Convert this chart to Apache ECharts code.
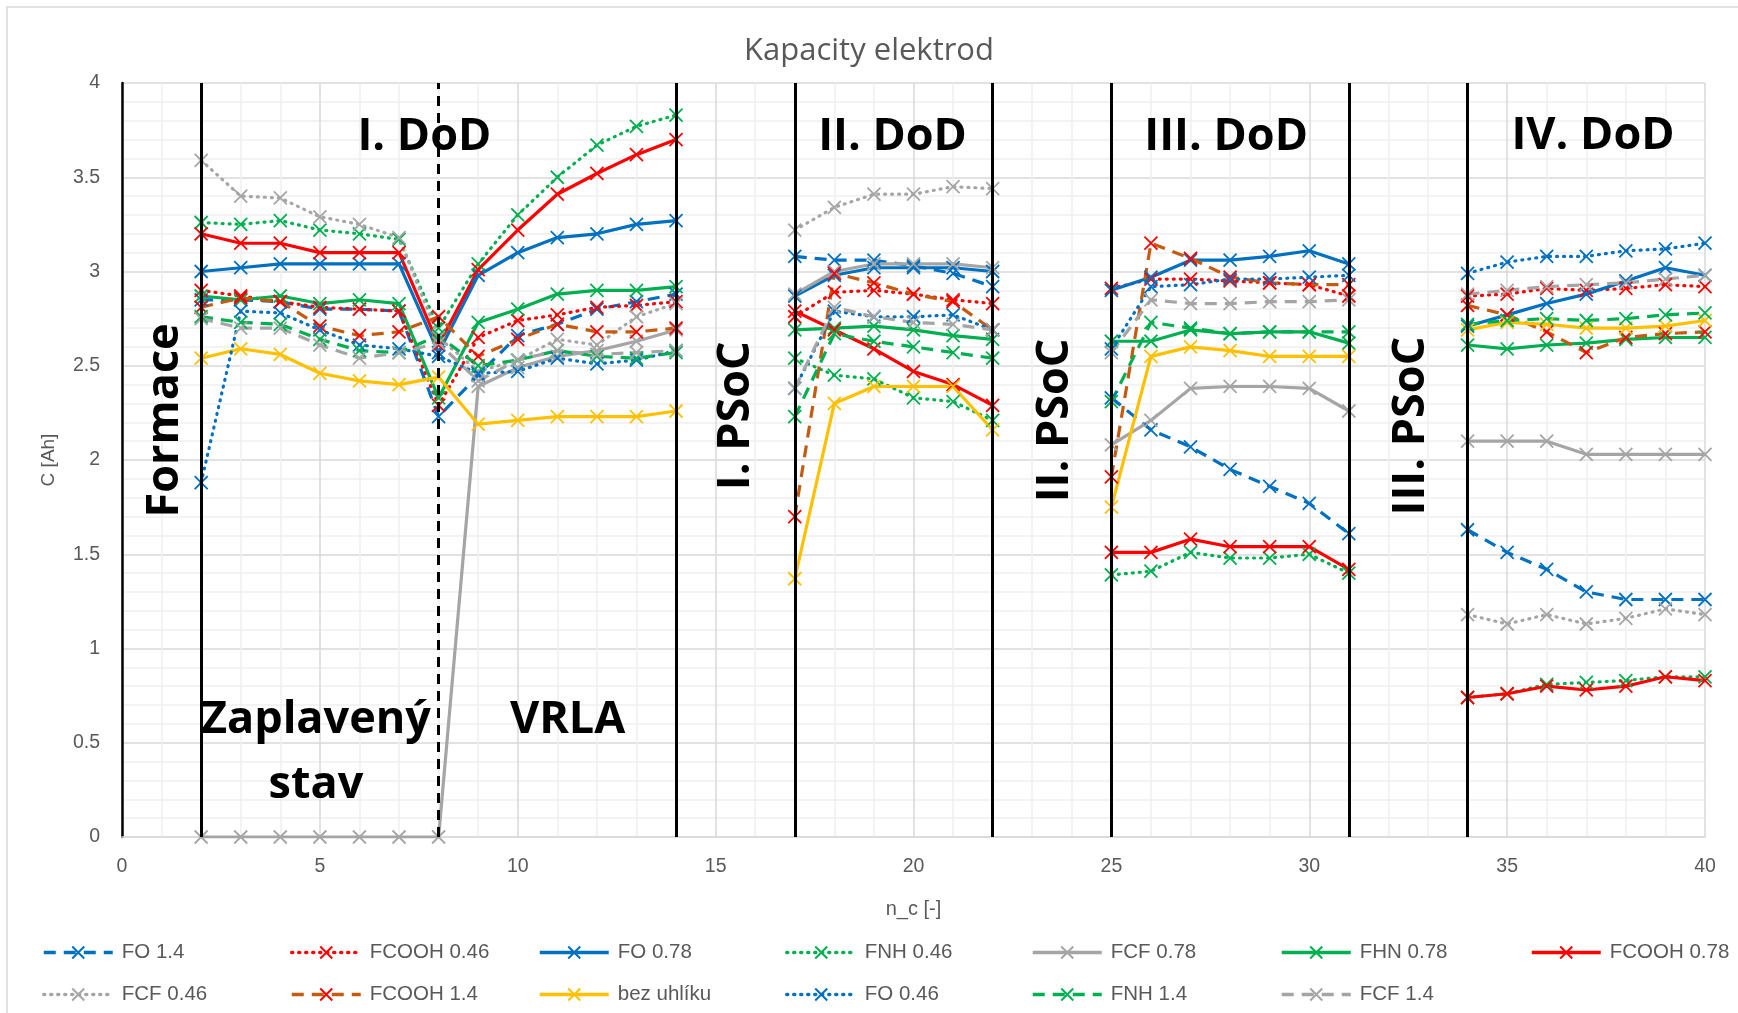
<!DOCTYPE html>
<html>
<head>
<meta charset="utf-8">
<title>Kapacity elektrod</title>
<script src="https://cdn.jsdelivr.net/npm/echarts@6/dist/echarts.min.js"></script>
<style>
  html, body { margin: 0; padding: 0; background: #fff; }
  #chart { width: 1738px; height: 1013px; }
</style>
</head>
<body>
<div id="chart"></div>
<script>
// cycle numbers: formace + I. DoD (2-14), II. DoD (17-22), III. DoD (25-31), IV. DoD (34-40)
const cycles = [2, 3, 4, 5, 6, 7, 8, 9, 10, 11, 12, 13, 14,
  17, 18, 19, 20, 21, 22,
  25, 26, 27, 28, 29, 30, 31,
  34, 35, 36, 37, 38, 39, 40]

const fo14 = [2.85, 2.85, 2.84, 2.80, 2.80, 2.79, 2.23, 2.45, 2.66, 2.72, 2.80, 2.84, 2.88,
  3.08, 3.06, 3.06, 3.03, 2.99, 2.92,
  2.33, 2.16, 2.07, 1.95, 1.86, 1.77, 1.61,
  1.63, 1.51, 1.42, 1.30, 1.26, 1.26, 1.26]
const fcooh046 = [2.90, 2.87, 2.84, 2.81, 2.80, 2.79, 2.29, 2.65, 2.74, 2.77, 2.81, 2.82, 2.84,
  2.76, 2.89, 2.90, 2.88, 2.85, 2.83,
  2.91, 2.96, 2.96, 2.95, 2.94, 2.93, 2.87,
  2.87, 2.88, 2.91, 2.90, 2.91, 2.93, 2.92]
const fo078 = [3.00, 3.02, 3.04, 3.04, 3.04, 3.04, 2.57, 2.98, 3.10, 3.18, 3.20, 3.25, 3.27,
  2.87, 2.98, 3.02, 3.02, 3.02, 3.00,
  2.90, 2.97, 3.06, 3.06, 3.08, 3.11, 3.04,
  2.71, 2.77, 2.83, 2.88, 2.95, 3.02, 2.98]
const fnh046 = [3.26, 3.25, 3.27, 3.22, 3.20, 3.17, 2.70, 3.04, 3.30, 3.50, 3.67, 3.77, 3.83,
  2.54, 2.45, 2.43, 2.33, 2.31, 2.21,
  1.39, 1.41, 1.51, 1.48, 1.48, 1.50, 1.40,
  0.74, 0.76, 0.81, 0.82, 0.83, 0.85, 0.85]
const fcf078 = [0, 0, 0, 0, 0, 0, 0, 2.39, 2.49, 2.55, 2.58, 2.63, 2.69,
  2.88, 3.00, 3.04, 3.04, 3.04, 3.02,
  2.08, 2.21, 2.38, 2.39, 2.39, 2.38, 2.26,
  2.10, 2.10, 2.10, 2.03, 2.03, 2.03, 2.03]
const fhn078 = [2.87, 2.85, 2.87, 2.83, 2.85, 2.83, 2.33, 2.73, 2.80, 2.88, 2.90, 2.90, 2.92,
  2.69, 2.70, 2.71, 2.69, 2.66, 2.64,
  2.63, 2.63, 2.69, 2.67, 2.68, 2.68, 2.62,
  2.61, 2.59, 2.61, 2.62, 2.64, 2.65, 2.65]
const fcooh078 = [3.20, 3.15, 3.15, 3.10, 3.10, 3.10, 2.61, 3.01, 3.22, 3.41, 3.52, 3.62, 3.70,
  2.79, 2.69, 2.59, 2.47, 2.40, 2.29,
  1.51, 1.51, 1.58, 1.54, 1.54, 1.54, 1.42,
  0.74, 0.76, 0.80, 0.78, 0.80, 0.85, 0.83]
const fcf046 = [3.59, 3.40, 3.39, 3.29, 3.25, 3.18, 2.65, 2.47, 2.53, 2.64, 2.61, 2.76, 2.83,
  3.22, 3.34, 3.41, 3.41, 3.45, 3.44,
  null, null, null, null, null, null, null,
  1.18, 1.13, 1.18, 1.13, 1.16, 1.21, 1.18]
const fcooh14 = [2.81, 2.86, 2.84, 2.71, 2.66, 2.68, 2.76, 2.55, 2.64, 2.72, 2.68, 2.68, 2.70,
  1.70, 2.99, 2.94, 2.88, 2.84, 2.69,
  1.91, 3.15, 3.07, 2.97, 2.94, 2.93, 2.93,
  2.82, 2.77, 2.68, 2.57, 2.65, 2.67, 2.68]
const bezUhliku = [2.54, 2.59, 2.56, 2.46, 2.42, 2.40, 2.44, 2.19, 2.21, 2.23, 2.23, 2.23, 2.26,
  1.37, 2.30, 2.39, 2.39, 2.39, 2.16,
  1.75, 2.55, 2.60, 2.58, 2.55, 2.55, 2.55,
  2.69, 2.73, 2.72, 2.70, 2.70, 2.71, 2.74]
const fo046 = [1.88, 2.79, 2.78, 2.69, 2.61, 2.59, 2.55, 2.46, 2.47, 2.54, 2.51, 2.53, 2.58,
  2.38, 2.79, 2.76, 2.76, 2.77, 2.69,
  2.59, 2.92, 2.93, 2.96, 2.96, 2.97, 2.98,
  2.99, 3.05, 3.08, 3.08, 3.11, 3.12, 3.15]
const fnh14 = [2.76, 2.73, 2.72, 2.64, 2.58, 2.57, 2.66, 2.50, 2.53, 2.58, 2.55, 2.54, 2.57,
  2.23, 2.67, 2.63, 2.60, 2.57, 2.54,
  2.31, 2.73, 2.70, 2.67, 2.68, 2.68, 2.68,
  2.72, 2.74, 2.75, 2.74, 2.75, 2.77, 2.78]
const fcf14 = [2.75, 2.70, 2.70, 2.61, 2.54, 2.57, 2.62, 2.42, 2.53, 2.58, 2.56, 2.57, 2.58,
  2.38, 2.81, 2.76, 2.73, 2.72, 2.69,
  2.57, 2.85, 2.83, 2.83, 2.84, 2.84, 2.85,
  2.88, 2.90, 2.92, 2.93, 2.94, 2.96, 2.98]

// boundaries between test phases
const solidMarks = [2, 14, 17, 22, 25, 31, 34]
const dashedMarks = [8]

const BLUE = '#0070C0'
const RED = '#FF0000'
const GREEN = '#00B050'
const GRAY = '#A5A5A5'
const YELLOW = '#FFC000'
const ORANGE = '#C55A11'
const DASH = [12, 8]
const DOT = [1, 6]
const TEXT = '#595959'
const FONT = '"Liberation Sans", Arial, sans-serif'
const CROSS = 'path://M0,0L10,10M10,0L0,10'

function toData(values) {
  const out = []
  cycles.forEach((c, i) => {
    if (i > 0 && c - cycles[i - 1] > 1) out.push([c - 1, '-'])
    out.push([c, values[i] == null ? '-' : values[i]])
  })
  return out
}

function lineSeries(name, values, lineColor, type, markColor) {
  const mc = markColor || lineColor
  return {
    name,
    type: 'line',
    data: toData(values),
    z: 3,
    symbol: CROSS,
    symbolSize: 13,
    showSymbol: true,
    connectNulls: false,
    animation: false,
    lineStyle: { color: lineColor, width: 3.2, type, cap: type === DOT ? 'round' : 'butt', join: 'round' },
    itemStyle: { color: mc, borderColor: mc, borderWidth: 1.8 },
  }
}

const series = [
  lineSeries('FO 1.4', fo14, BLUE, DASH),
  lineSeries('FCOOH 0.46', fcooh046, RED, DOT),
  lineSeries('FO 0.78', fo078, BLUE, 'solid'),
  lineSeries('FNH 0.46', fnh046, GREEN, DOT),
  lineSeries('FCF 0.78', fcf078, GRAY, 'solid'),
  lineSeries('FHN 0.78', fhn078, GREEN, 'solid'),
  lineSeries('FCOOH 0.78', fcooh078, RED, 'solid'),
  lineSeries('FCF 0.46', fcf046, GRAY, DOT),
  lineSeries('FCOOH 1.4', fcooh14, ORANGE, DASH, RED),
  lineSeries('bez uhlíku', bezUhliku, YELLOW, 'solid'),
  lineSeries('FO 0.46', fo046, BLUE, DOT),
  lineSeries('FNH 1.4', fnh14, GREEN, DASH),
  lineSeries('FCF 1.4', fcf14, GRAY, DASH),
]

// one legend per entry so the columns line up like the original
const legendCols = [42, 290, 538, 785, 1031, 1280, 1530]
const legendRows = [942, 984]
const legends = series.map((s, i) => ({
  data: [s.name],
  left: legendCols[i % 7],
  top: legendRows[Math.floor(i / 7)],
  padding: 0,
  itemWidth: 69,
  itemHeight: 15,
  lineStyle: { width: 3.5 },
  textStyle: { color: TEXT, fontSize: 20.5, fontFamily: FONT, padding: [0, 0, 0, 4] },
}))

series.unshift({
  type: 'line',
  data: [],
  z: 1,
  silent: true,
  markLine: {
    silent: true,
    symbol: 'none',
    animation: false,
    label: { show: false },
    lineStyle: { color: '#000', width: 3, type: 'solid' },
    data: solidMarks.map(v => ({ xAxis: v }))
      .concat(dashedMarks.map(v => ({ xAxis: v, lineStyle: { type: [10, 7], width: 3, color: '#000' } }))),
  },
})

const chart = echarts.init(document.getElementById('chart'))

chart.setOption({
  animation: false,
  backgroundColor: '#fff',
  title: {
    text: 'Kapacity elektrod',
    left: 'center',
    top: 36,
    padding: 0,
    textStyle: { color: TEXT, fontSize: 31, fontWeight: 'normal', fontFamily: '"Open Sans", sans-serif' },
  },
  grid: { left: 122, right: 33, top: 83, bottom: 176 },
  xAxis: {
    type: 'value',
    min: 0,
    max: 40,
    interval: 5,
    name: 'n_c [-]',
    nameLocation: 'middle',
    nameGap: 62,
    nameTextStyle: { color: TEXT, fontSize: 20, fontFamily: FONT },
    axisLine: { show: true, lineStyle: { color: '#D9D9D9', width: 1.5 } },
    axisTick: { show: false },
    axisLabel: { color: TEXT, fontSize: 19.5, fontFamily: FONT, margin: 20 },
    splitLine: { show: true, lineStyle: { color: '#D9D9D9', width: 1.5 } },
    minorTick: { show: false, splitNumber: 5 },
    minorSplitLine: { show: true, lineStyle: { color: '#EFEFEF', width: 1.5 } },
  },
  yAxis: {
    type: 'value',
    min: 0,
    max: 4,
    interval: 0.5,
    name: 'C [Ah]',
    nameLocation: 'middle',
    nameGap: 64,
    nameTextStyle: { color: TEXT, fontSize: 19, fontFamily: FONT },
    axisLine: { show: true, lineStyle: { color: '#000', width: 2.5 } },
    axisTick: { show: false },
    axisLabel: { color: TEXT, fontSize: 19.5, fontFamily: FONT, margin: 22 },
    splitLine: { show: true, lineStyle: { color: '#D9D9D9', width: 1.5 } },
    minorTick: { show: false, splitNumber: 5 },
    minorSplitLine: { show: true, lineStyle: { color: '#EFEFEF', width: 1.5 } },
  },
  legend: legends,
  series,
})

// phase labels placed in data coordinates
const notes = [
  { text: 'I. DoD', x: 7.64, y: 3.71, rot: 0 },
  { text: 'II. DoD', x: 19.47, y: 3.71, rot: 0 },
  { text: 'III. DoD', x: 27.9, y: 3.71, rot: 0 },
  { text: 'IV. DoD', x: 37.17, y: 3.72, rot: 0 },
  { text: 'Formace', x: 1.1, y: 2.21, rot: 90 },
  { text: 'I. PSoC', x: 15.52, y: 2.235, rot: 90 },
  { text: 'II. PSoC', x: 23.58, y: 2.21, rot: 90 },
  { text: 'III. PSoC', x: 32.58, y: 2.18, rot: 90 },
  { text: 'Zaplavený', x: 4.9, y: 0.618, rot: 0 },
  { text: 'stav', x: 4.9, y: 0.277, rot: 0 },
  { text: 'VRLA', x: 11.26, y: 0.618, rot: 0 },
]

const graphic = notes.map(n => {
  const [px, py] = chart.convertToPixel({ gridIndex: 0 }, [n.x, n.y])
  return {
    type: 'text',
    x: px,
    y: py,
    rotation: n.rot * Math.PI / 180,
    z: 10,
    silent: true,
    style: {
      text: n.text,
      fill: '#000',
      font: 'bold 45px "Open Sans", sans-serif',
      align: 'center',
      verticalAlign: 'middle',
    },
  }
})

graphic.push({
  type: 'rect',
  shape: { x: 7, y: 7, width: 1740, height: 1015 },
  z: -1,
  silent: true,
  style: { fill: 'none', stroke: '#D9D9D9', lineWidth: 1.5 },
})

chart.setOption({ graphic })
</script>
</body>
</html>
